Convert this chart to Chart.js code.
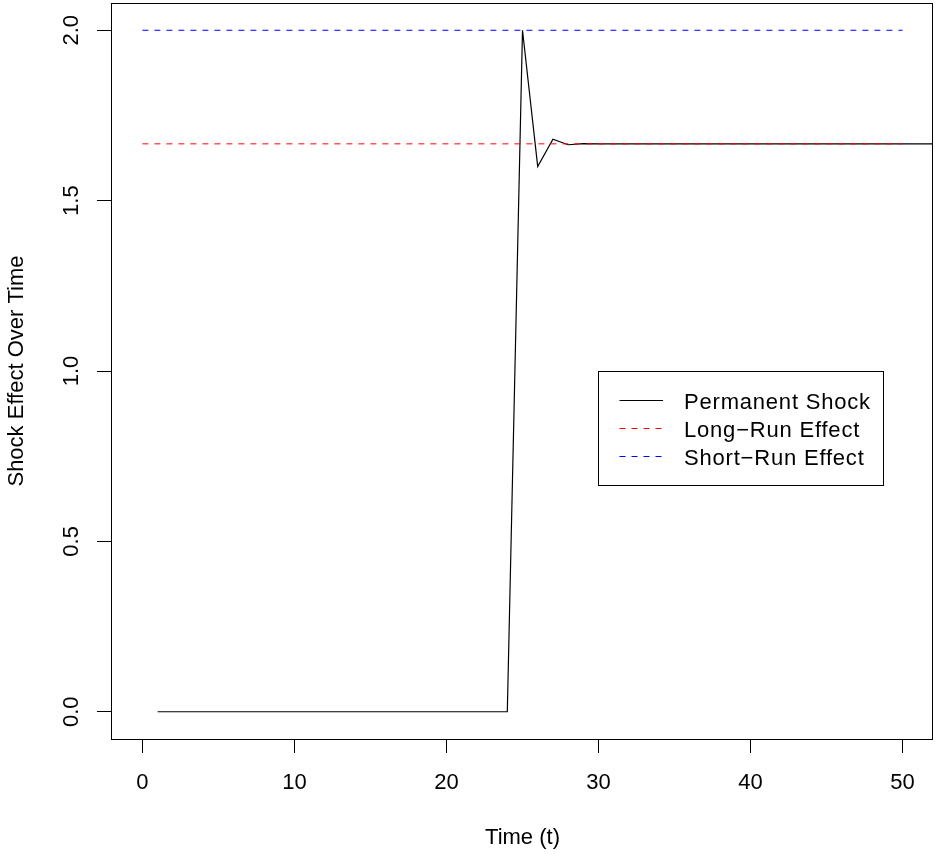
<!DOCTYPE html>
<html><head><meta charset="utf-8">
<script src="https://cdn.jsdelivr.net/npm/chart.js@4"></script>
<style>html,body{margin:0;padding:0;background:#fff}#wrap{width:935px;height:854px}</style>
</head><body>
<div id="wrap"><canvas id="c" width="935" height="854"></canvas></div>
<script>
// ---- data ----
const time = [1,2,3,4,5,6,7,8,9,10,11,12,13,14,15,16,17,18,19,20,21,22,23,24,25,26,27,28,29,30,31,32,33,34,35,36,37,38,39,40,41,42,43,44,45,46,47,48,49,50,51,52,53];
const permanentShock = [0,0,0,0,0,0,0,0,0,0,0,0,0,0,0,0,0,0,0,0,0,0,0,0,
  2.0,1.6,1.68,1.664,1.6672,1.66656,1.66669,1.66666,1.66667,1.66667,1.66667,1.66667,1.66667,1.66667,1.66667,1.66667,1.66667,1.66667,1.66667,1.66667,1.66667,1.66667,1.66667,1.66667,1.66667,1.66667,1.66667,1.66667,1.66667];
const longRunX = [0, 50];
const longRunY = [1.66667, 1.66667];
const shortRunX = [0, 50];
const shortRunY = [2.0, 2.0];
const xTicks = [0,10,20,30,40,50];
const yTicks = [0,0.5,1,1.5,2];
const yTickLabels = ['0.0','0.5','1.0','1.5','2.0'];
const seriesNames = ['Permanent Shock','Long\u2212Run Effect','Short\u2212Run Effect'];
const xTitle = 'Time (t)';
const yTitle = 'Shock Effect Over Time';

const FONT = "'Liberation Sans', Arial, Helvetica, sans-serif";
Chart.defaults.font.family = FONT;
Chart.defaults.color = '#000';

const pts = (xs, ys) => xs.map((x, i) => ({x: x, y: ys[i]}));

const decor = {
  id: 'decor',
  afterDraw(chart) {
    const ctx = chart.ctx, a = chart.chartArea;
    const ys = chart.scales.y;
    ctx.save();
    // box
    ctx.strokeStyle = '#000'; ctx.lineWidth = 1;
    ctx.strokeRect(Math.round(a.left) - 0.5, Math.round(a.top) + 0.5,
                   Math.round(a.right - a.left), Math.round(a.bottom - a.top));
    // y tick labels (rotated, as in R)
    ctx.fillStyle = '#000';
    ctx.font = '22px ' + FONT;
    ctx.textAlign = 'center'; ctx.textBaseline = 'alphabetic';
    yTicks.forEach((v, i) => {
      const py = ys.getPixelForValue(v);
      ctx.save(); ctx.translate(78, py); ctx.rotate(-Math.PI / 2);
      ctx.fillText(yTickLabels[i], 0, 0); ctx.restore();
    });
    // axis titles
    ctx.fillText(xTitle, (a.left + a.right) / 2, 844);
    ctx.save(); ctx.translate(23, (a.top + a.bottom) / 2); ctx.rotate(-Math.PI / 2);
    ctx.fillText(yTitle, 0, 0); ctx.restore();
    // legend
    const bx = 598.5, by = 371.5, bw = 285, bh = 114;
    ctx.fillStyle = '#fff'; ctx.fillRect(bx, by, bw, bh);
    ctx.strokeStyle = '#000'; ctx.lineWidth = 1; ctx.strokeRect(bx, by, bw, bh);
    const colors = ['#000000', '#FF0000', '#0000FF'];
    const dashes = [[], [6, 6], [6, 6]];
    const rows = [400.5, 428.5, 456.5];
    ctx.textAlign = 'left';
    ctx.font = '22px ' + FONT;
    try { ctx.letterSpacing = '0.8px'; } catch (e) {}
    rows.forEach((ry, i) => {
      ctx.beginPath(); ctx.setLineDash(dashes[i]); ctx.strokeStyle = colors[i];
      ctx.moveTo(619.5, ry); ctx.lineTo(663, ry); ctx.stroke();
      ctx.setLineDash([]);
      ctx.fillStyle = '#000';
      ctx.fillText(seriesNames[i], 684, ry + 8);
    });
    ctx.restore();
  }
};

new Chart(document.getElementById('c'), {
  type: 'scatter',
  data: {
    datasets: [
      { label: seriesNames[1], data: pts(longRunX, longRunY), showLine: true, borderColor: '#FF0000',
        borderWidth: 1, borderDash: [6, 6], pointRadius: 0, fill: false },
      { label: seriesNames[2], data: pts(shortRunX, shortRunY), showLine: true, borderColor: '#0000FF',
        borderWidth: 1, borderDash: [6, 6], pointRadius: 0, fill: false },
      { label: seriesNames[0], data: pts(time, permanentShock), showLine: true, borderColor: '#000000',
        borderWidth: 1.2, pointRadius: 0, fill: false, tension: 0 }
    ]
  },
  options: {
    responsive: false,
    animation: false,
    events: [],
    layout: { padding: { top: 3, right: 2, left: 0, bottom: 0 } },
    plugins: { legend: { display: false }, tooltip: { enabled: false } },
    scales: {
      x: {
        type: 'linear', position: 'bottom', min: -2, max: 52,
        afterBuildTicks: s => { s.ticks = xTicks.map(v => ({ value: v })); },
        afterFit: s => { s.height = 115; },
        grid: { drawOnChartArea: false, drawTicks: true, tickLength: 14, color: '#000', tickColor: '#000', lineWidth: 1 },
        border: { display: false },
        ticks: { font: { size: 22 }, color: '#000', padding: 17, maxRotation: 0, autoSkip: false }
      },
      y: {
        type: 'linear', position: 'left', min: -0.08, max: 2.08,
        afterBuildTicks: s => { s.ticks = yTicks.map(v => ({ value: v })); },
        afterFit: s => { s.width = 112; },
        grid: { drawOnChartArea: false, drawTicks: true, tickLength: 15, color: '#000', tickColor: '#000', lineWidth: 1 },
        border: { display: false },
        ticks: { display: false }
      }
    }
  },
  plugins: [decor]
});
</script>
</body></html>
